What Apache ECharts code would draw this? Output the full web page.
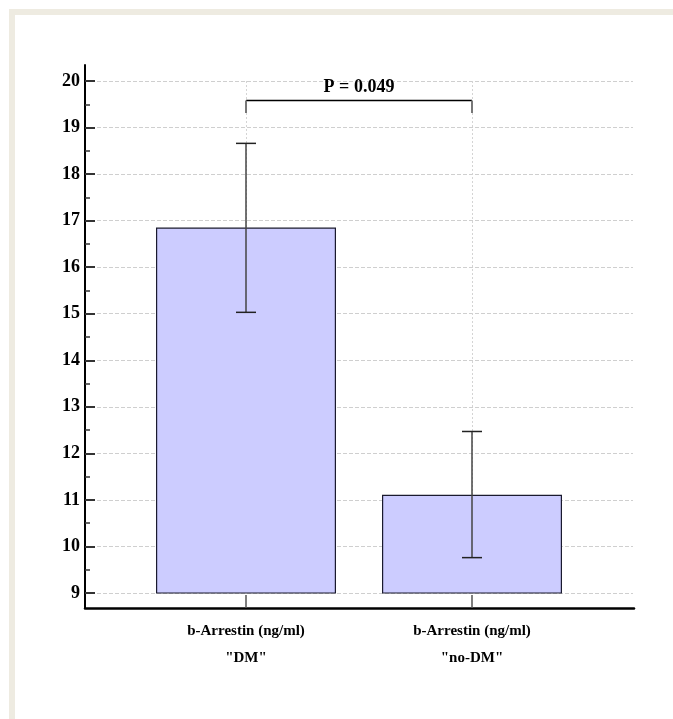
<!DOCTYPE html>
<html>
<head>
<meta charset="utf-8">
<script src="https://cdn.jsdelivr.net/npm/echarts@6/dist/echarts.min.js"></script>
<style>html,body{margin:0;padding:0;background:#fff}#c{width:673px;height:719px}</style>
</head>
<body>
<div id="c"></div>
<script>
const categories = ['b-Arrestin (ng/ml)\n"DM"', 'b-Arrestin (ng/ml)\n"no-DM"'];
const means = [16.85, 11.11];
const errLow = [15.03, 9.76];
const errHigh = [18.66, 12.47];
const yMin = 9, yMax = 20, yStep = 1;
const pText = 'P = 0.049';
const bracketTop = 19.58;
const bracketEnd = 19.31;
const bracketLabelY = 19.87;

const serif = '"Liberation Serif", "Times New Roman", serif';
const chart = echarts.init(document.getElementById('c'));

const errData = means.map((m, i) => [i, errLow[i], errHigh[i]]);

chart.setOption({
  animation: false,
  backgroundColor: '#ffffff',
  graphic: [{
    type: 'rect', z: -10, silent: true,
    shape: { x: 12, y: 12, width: 720, height: 760 },
    style: { fill: '#ffffff', stroke: '#eeebe1', lineWidth: 6 }
  }],
  grid: [
    { left: 85, right: 39, top: 65, bottom: 111 },   // frame
    { left: 85, right: 40, top: 81, bottom: 126 },   // y scale
    { left: 133, right: 88, top: 81, bottom: 126 },  // bars
    { left: 246, right: 201, top: 81, bottom: 126 }  // category ticks / vertical grid
  ],
  xAxis: [
    { gridIndex: 0, type: 'value', min: 0, max: 1,
      axisLine: { show: true, lineStyle: { color: '#000', width: 2.5 } },
      axisTick: { show: false }, axisLabel: { show: false }, splitLine: { show: false } },
    { gridIndex: 1, type: 'value', min: 0, max: 1, show: false },
    { gridIndex: 2, type: 'category', data: categories, show: false },
    { gridIndex: 3, type: 'category', data: categories, boundaryGap: false, offset: 15,
      axisLine: { show: false },
      axisTick: { show: true, inside: true, length: 13, lineStyle: { color: '#555', width: 1.5 } },
      axisLabel: { margin: 10, fontFamily: serif, fontWeight: 'bold', fontSize: 15, lineHeight: 27, color: '#000' },
      splitLine: { show: true, lineStyle: { color: '#d4d4d4', type: [2, 2], width: 1 } } }
  ],
  yAxis: [
    { gridIndex: 0, type: 'value', min: 0, max: 1,
      axisLine: { show: true, lineStyle: { color: '#000', width: 2 } },
      axisTick: { show: false }, axisLabel: { show: false }, splitLine: { show: false } },
    { gridIndex: 1, type: 'value', min: yMin, max: yMax, interval: yStep,
      axisLine: { show: false },
      axisTick: { show: true, inside: true, length: 10, lineStyle: { color: '#333', width: 2 } },
      minorTick: { show: true, splitNumber: 2, length: 5, lineStyle: { color: '#333', width: 1.5 } },
      axisLabel: { margin: 5, fontFamily: serif, fontWeight: 'bold', fontSize: 18, color: '#000' },
      splitLine: { show: true, lineStyle: { color: '#cfcfcf', type: [4, 2], width: 1 } } },
    { gridIndex: 2, type: 'value', min: yMin, max: yMax, show: false },
    { gridIndex: 3, type: 'value', min: yMin, max: yMax, show: false }
  ],
  series: [
    { type: 'bar', xAxisIndex: 2, yAxisIndex: 2, data: means, barWidth: 180, clip: true,
      itemStyle: { color: '#ccccff', borderColor: '#1a1a2e', borderWidth: 1.2 }, z: 3 },
    { type: 'custom', xAxisIndex: 2, yAxisIndex: 2, data: errData, clip: false, z: 5,
      renderItem: function (params, api) {
        const x = api.value(0);
        const lo = api.coord([x, api.value(1)]);
        const hi = api.coord([x, api.value(2)]);
        const cap = 10;
        const st = { stroke: '#222', lineWidth: 1.5 };
        return { type: 'group', children: [
          { type: 'line', shape: { x1: lo[0], y1: lo[1], x2: hi[0], y2: hi[1] }, style: { stroke: '#444', lineWidth: 1.5 } },
          { type: 'line', shape: { x1: hi[0] - cap, y1: hi[1], x2: hi[0] + cap, y2: hi[1] }, style: st },
          { type: 'line', shape: { x1: lo[0] - cap, y1: lo[1], x2: lo[0] + cap, y2: lo[1] }, style: st }
        ]};
      } },
    { type: 'custom', xAxisIndex: 2, yAxisIndex: 2, data: [[0, 1, bracketTop, bracketEnd, bracketLabelY]], clip: false, z: 5,
      renderItem: function (params, api) {
        const a = api.coord([api.value(0), api.value(2)]);
        const b = api.coord([api.value(1), api.value(2)]);
        const ae = api.coord([api.value(0), api.value(3)]);
        const be = api.coord([api.value(1), api.value(3)]);
        const ty = api.coord([api.value(0), api.value(4)])[1];
        const tx = (a[0] + b[0]) / 2;
        return { type: 'group', children: [
          { type: 'line', shape: { x1: a[0], y1: a[1], x2: b[0], y2: b[1] }, style: { stroke: '#000', lineWidth: 1.5 } },
          { type: 'line', shape: { x1: a[0], y1: a[1], x2: ae[0], y2: ae[1] }, style: { stroke: '#777', lineWidth: 2 } },
          { type: 'line', shape: { x1: b[0], y1: b[1], x2: be[0], y2: be[1] }, style: { stroke: '#777', lineWidth: 2 } },
          { type: 'text', x: tx, y: ty, style: { text: pText, fontFamily: serif, fontWeight: 'bold', fontSize: 18, fill: '#000', align: 'center', verticalAlign: 'middle' } }
        ]};
      } }
  ]
});
</script>
</body>
</html>
